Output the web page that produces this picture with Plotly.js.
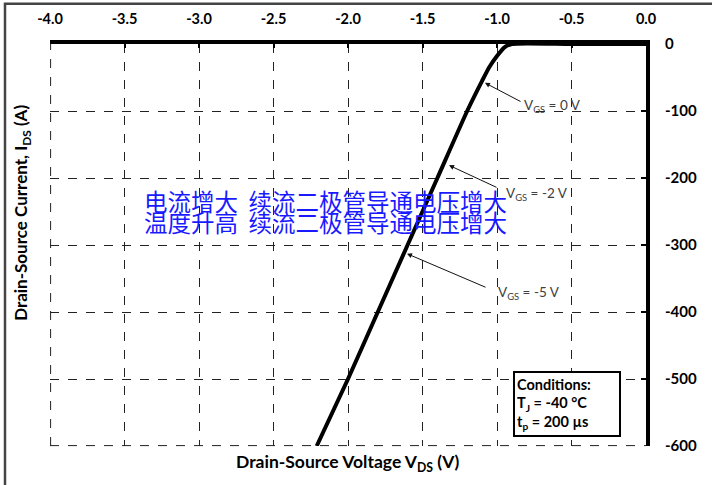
<!DOCTYPE html>
<html>
<head>
<meta charset="utf-8">
<script src="https://cdn.plot.ly/plotly-3.0.1.min.js"></script>
<style>html,body{margin:0;padding:0;background:#fff;}#chart{width:712px;height:485px;}</style>
</head>
<body>
<div id="chart"></div>
<script>
// Data (body diode characteristic, Tj = -40 °C)
const vds = [0.0, -0.50, -0.90, -0.95, -1.00, -1.05, -1.10, -1.20, -1.40, -1.60, -1.80, -2.00, -2.21];
const ids = [0, 0, 0, -5, -18, -34, -55, -100, -200, -300, -400, -500, -600];
const xTicks = [-4.0, -3.5, -3.0, -2.5, -2.0, -1.5, -1.0, -0.5, 0.0];
const xTickLabels = ["-4.0", "-3.5", "-3.0", "-2.5", "-2.0", "-1.5", "-1.0", "-0.5", "0.0"];
const yTicks = [0, -100, -200, -300, -400, -500, -600];
const yTickLabels = ["0", "-100", "-200", "-300", "-400", "-500", "-600"];
const curveLabels = ["V<sub>GS</sub> = 0 V", "V<sub>GS</sub> = -2 V", "V<sub>GS</sub> = -5 V"];
const cnLines = ["电流增大\u00a0\u00a0续流二极管导通电压增大", "温度升高\u00a0\u00a0续流二极管导通电压增大"];
const conditions = ["Conditions:", "T<sub>J</sub> = -40 °C", "t<sub>p</sub> = 200 µs"];
const xTitle = "Drain-Source Voltage V<sub>DS</sub> (V)";
const yTitle = "Drain-Source Current, I<sub>DS</sub> (A)";

const FONT = "Lato, 'Open Sans', sans-serif";
const CJK = "'Noto Sans CJK SC', sans-serif";

const trace = {
  x: vds, y: ids, type: "scatter", mode: "lines",
  line: {color: "#000", width: 4, shape: "spline", smoothing: 0.6},
  hoverinfo: "skip", showlegend: false
};

// arrow annotation placements (head x,y ; tail x,y ; text x,y)
const arrowPos = [
  {hx: -1.081, hy: -58, tx: -0.832, ty: -87, lx: -0.835, ly: -92},
  {hx: -1.322, hy: -181, tx: -0.993, ty: -215, lx: -0.950, ly: -224},
  {hx: -1.604, hy: -313, tx: -1.067, ty: -364, lx: -1.005, ly: -372}
];

const annotations = [];
arrowPos.forEach((p, i) => {
  annotations.push({
    x: p.hx, y: p.hy, ax: p.tx, ay: p.ty, axref: "x", ayref: "y", xref: "x", yref: "y",
    text: "", showarrow: true, arrowhead: 2, arrowsize: 1, arrowwidth: 1, arrowcolor: "#111"
  });
  annotations.push({
    x: p.lx, y: p.ly, xref: "x", yref: "y", xanchor: "left", yanchor: "middle",
    text: curveLabels[i], showarrow: false,
    font: {family: FONT, size: 13.5, color: "#404040"}
  });
});
annotations.push({
  x: -3.38, y: -235, xref: "x", yref: "y", xanchor: "left", yanchor: "middle",
  text: cnLines[0], showarrow: false,
  font: {family: CJK, size: 23.5, color: "#1a1aff"}
});
annotations.push({
  x: -3.38, y: -266, xref: "x", yref: "y", xanchor: "left", yanchor: "middle",
  text: cnLines[1], showarrow: false,
  font: {family: CJK, size: 23.5, color: "#1a1aff"}
});
annotations.push({
  x: 0.777, y: 0.1866, xref: "paper", yref: "paper", xanchor: "left", yanchor: "top",
  text: conditions.map(s => "<b>" + s + "</b>").join("<br>"), showarrow: false, align: "left",
  font: {family: FONT, size: 14.5, color: "#000"},
  bgcolor: "#fff", bordercolor: "#000", borderwidth: 2, borderpad: 2, width: 100, height: 58
});
annotations.push({
  x: 0.5, y: -0.042, xref: "paper", yref: "paper", xanchor: "center", yanchor: "middle",
  text: "<b>" + xTitle + "</b>", showarrow: false,
  font: {family: FONT, size: 17.5, color: "#000"}
});
annotations.push({
  x: -0.047, y: 0.58, xref: "paper", yref: "paper", xanchor: "center", yanchor: "middle",
  text: "<b>" + yTitle + "</b>", showarrow: false, textangle: -90,
  font: {family: FONT, size: 17, color: "#000"}
});

const edgeGrid = {color: "#222", width: 1, dash: "dash"};

const layout = {
  width: 712, height: 485,
  margin: {l: 50, r: 66, t: 44, b: 39, pad: 0},
  paper_bgcolor: "#fff", plot_bgcolor: "#fff",
  showlegend: false,
  font: {family: FONT, color: "#000"},
  xaxis: {
    side: "top", range: [-4, 0], tickvals: xTicks, ticktext: xTickLabels,
    showline: true, linecolor: "#000", linewidth: 4,
    showgrid: true, gridcolor: "#222", gridwidth: 1, griddash: "dash",
    zeroline: false, ticks: "inside", ticklen: 4, tickwidth: 2, tickcolor: "#000",
    ticklabelstandoff: 10,
    tickfont: {family: FONT, size: 14.5, color: "#000", weight: "bold"},
    fixedrange: true
  },
  yaxis: {
    side: "right", range: [-600, 0], tickvals: yTicks, ticktext: yTickLabels,
    showline: true, linecolor: "#000", linewidth: 4,
    showgrid: true, gridcolor: "#222", gridwidth: 1, griddash: "dash",
    zeroline: false, ticks: "inside", ticklen: 5, tickwidth: 2, tickcolor: "#000",
    ticklabelstandoff: 12,
    tickfont: {family: FONT, size: 15, color: "#000", weight: "bold"},
    fixedrange: true
  },
  annotations: annotations,
  shapes: [
    {type: "line", xref: "paper", yref: "paper", x0: 0.001, x1: 0.001, y0: 0, y1: 1, layer: "below", line: edgeGrid},
    {type: "line", xref: "paper", yref: "paper", x0: 0, x1: 1, y0: 0.001, y1: 0.001, layer: "below", line: edgeGrid},
    {type: "rect", xref: "paper", yref: "paper",
     x0: -0.0755, x1: 1.13, y0: -0.12, y1: 1.1, layer: "above",
     line: {color: "#444", width: 2.5}, fillcolor: "rgba(0,0,0,0)"}
  ]
};

Plotly.newPlot("chart", [trace], layout, {staticPlot: true, displayModeBar: false});
</script>
</body>
</html>
